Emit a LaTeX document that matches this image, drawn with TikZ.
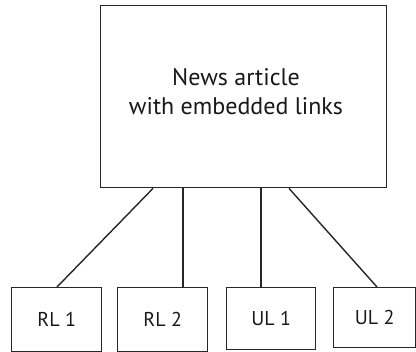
\documentclass[tikz,border=0pt]{standalone}
\usepackage{fontspec}
\setmainfont{PT Sans}
\usetikzlibrary{calc}
\begin{document}
\begin{tikzpicture}[x=1pt,y=-1pt,
  box/.style={draw=black!85,line width=1.4pt,inner sep=0pt,anchor=north west},
  link/.style={draw=black!85,line width=1.4pt},
  lbl/.style={font=\fontsize{24}{29}\selectfont,text=black!90,align=center},
  slbl/.style={font=\fontsize{20}{24}\selectfont,text=black!90}]
\useasboundingbox (0,0) rectangle (416,352);
\node[box,minimum width=286pt,minimum height=182pt] (art) at (100,5) {};
\node[lbl] (t) at (236,92) {News article\\with embedded links};
\node[box,minimum width=90pt,minimum height=64pt] (rl1) at (11,287) {};
\node[box,minimum width=90pt,minimum height=64pt] (rl2) at (117,287) {};
\node[box,minimum width=89pt,minimum height=62pt] (ul1) at (226,287) {};
\node[box,minimum width=82pt,minimum height=60pt] (ul2) at (333,287) {};
\node[slbl] at (rl1.center) {RL 1};
\node[slbl] at (rl2.center) {RL 2};
\node[slbl] at (ul1.center) {UL 1};
\node[slbl] at (ul2.center) {UL 2};
\coordinate (a1) at ($(art.south west)+(53,0)$);
\coordinate (a2) at ($(art.south west)+(83,0)$);
\coordinate (a3) at ($(art.south west)+(161,0)$);
\coordinate (a4) at ($(art.south west)+(189,0)$);
\coordinate (b1) at ($(rl1.north west)+(46,0)$);
\coordinate (b4) at ($(ul2.north west)+(44,0)$);
\draw[link] (a1) -- (b1);
\draw[link] (a2) -- (a2 |- rl2.north);
\draw[link] (a3) -- (a3 |- ul1.north);
\draw[link] (a4) -- (b4);
\end{tikzpicture}
\end{document}
